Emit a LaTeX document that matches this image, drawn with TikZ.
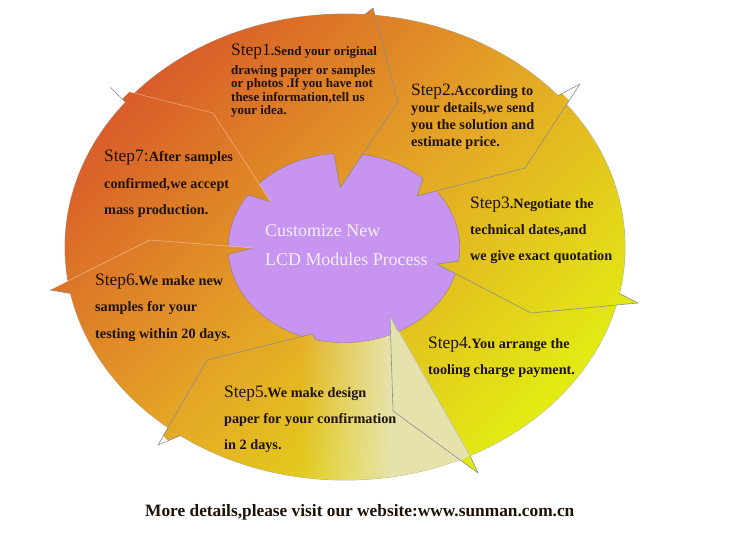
\documentclass[tikz,border=0pt]{standalone}
\usepackage{fontspec}
\setmainfont{Liberation Serif}
\usetikzlibrary{fadings}

\definecolor{ringred}{HTML}{D95B29}
\definecolor{ringmid}{HTML}{E4A626}
\definecolor{ringyel}{HTML}{E2EE12}
\definecolor{paleyel}{HTML}{E6E2AC}
\definecolor{hubfill}{HTML}{C794F0}
\definecolor{hubedge}{HTML}{8C6C96}
\definecolor{hubink}{HTML}{F4EEFA}
\definecolor{stepink}{HTML}{1E1208}

\tikzfading[name=fade in east, left color=transparent!100, right color=transparent!0]

\tikzset{
  steptext/.style 2 args={anchor=base west, align=left, inner sep=0pt, text=stepink,
    font=\bfseries\fontsize{#1}{#2}\selectfont},
  sep/.style={draw=black!45, line width=0.6bp, line join=round},
  faintsep/.style={draw=white, opacity=0.35, line width=0.7bp},
}
\newcommand\steplabel[1]{{\mdseries\fontsize{17.5}{17.5}\selectfont #1}}

\begin{document}
\begin{tikzpicture}[x=1bp,y=-1bp]
\useasboundingbox (0,0) rectangle (736,546);
\coordinate (rim) at (345,247);
\coordinate (hub) at (344,248);
% arrow heads between two steps: outer wing, tip, inner wing, angles of the wing bases
\foreach \k/\ox/\oy/\tx/\ty/\ix/\iy/\ao/\ai in {12/373/8/398/102/340/188/274/265,
    23/580/84/525/168/417/196/319.5/313, 34/638/303/531/313/437/264/11.5/8,
    45/478/473/393/411/390/316/63.5/62, 56/158/445/207/360/312/334/126/104,
    67/50/290/150/240/253/248/168.5/176, 71/110/87/213/113/271/202/218.4/214}{
  \coordinate (o\k) at (\ox,\oy);
  \coordinate (t\k) at (\tx,\ty);
  \coordinate (i\k) at (\ix,\iy);
  \coordinate (bo\k) at ([shift={(rim)}]\ao:280 and 233);
  \coordinate (bi\k) at ([shift={(hub)}]\ai:116 and 95);
}
\draw[draw=black!35, line width=0.8bp] (rim) ellipse[x radius=280, y radius=233];
\filldraw[fill=hubfill, draw=hubedge, line width=0.8bp] (hub) ellipse[x radius=116, y radius=95];
% the ring with its arrow heads, one shading
\begin{scope}
  \clip (rim) ++(280,0) arc[start angle=0, end angle=360, x radius=280, y radius=233]
        (hub) ++(116,0) arc[start angle=0, end angle=-360, x radius=116, y radius=95]
        \foreach \k in {12,23,34,45,56,67,71}{
          (bo\k) -- (o\k) -- (t\k) -- (i\k) -- (bi\k) -- cycle
          (bo\k) -- (o\k) -- (t\k) -- (i\k) -- (bi\k) -- cycle};
  \begin{scope}[transform canvas={shift={(rim)},rotate=45}]
    \shade[top color=ringred, bottom color=ringyel, middle color=ringmid] (-262,-262) rectangle (262,262);
  \end{scope}
  \fill[paleyel, path fading=fade in east] (300,320) rectangle (391,495);
  \fill[paleyel] (i45) -- (bo45) -- (460,461) -- (455,495) -- (391,495) -- cycle;
\end{scope}
\foreach \k/\s in {12/sep,23/sep,34/sep,45/sep,56/sep,67/faintsep,71/faintsep}{
  \draw[sep] (bo\k) -- (o\k) (i\k) -- (bi\k);
  \draw[\s] (o\k) -- (t\k) -- (i\k);
}
\draw[sep, draw=black!25] (i45) -- (bo45);

\node[steptext={13}{13.5}] (step1) at (231,114.5) {\steplabel{Step1}.Send your original\\[5.5bp]drawing paper or samples\\or photos .If you have not\\these information,tell us\\your idea.};
\node[steptext={14.3}{17.2}] (step2) at (411,146.6) {\steplabel{Step2}.According to\\your details,we send\\you the solution and\\estimate price.};
\node[steptext={14.3}{26.5}] (step3) at (470,261) {\steplabel{Step3}.Negotiate the\\technical dates,and\\we give exact quotation};
\node[steptext={14.3}{26.7}] (step4) at (428,374.7) {\steplabel{Step4}.You arrange the\\tooling charge payment.};
\node[steptext={14.3}{26}] (step5) at (224,449) {\steplabel{Step5}.We make design\\paper for your confirmation\\in 2 days.};
\node[steptext={14.3}{26.5}] (step6) at (95,338) {\steplabel{Step6}.We make new\\samples for your\\testing within 20 days.};
\node[steptext={14.3}{27}] (step7) at (104,215) {\steplabel{Step7:}After samples\\confirmed,we accept\\mass production.};

\node[anchor=base west, align=left, inner sep=0pt, text=hubink, font=\fontsize{18}{30}\selectfont] (title) at (265,266) {Customize New\\LCD Modules Process};
\node[anchor=base west, inner sep=0pt, text=stepink, font=\bfseries\fontsize{17.4}{17.4}\selectfont] (footer) at (145,516) {More details,please visit our website:www.sunman.com.cn};
\end{tikzpicture}
\end{document}
